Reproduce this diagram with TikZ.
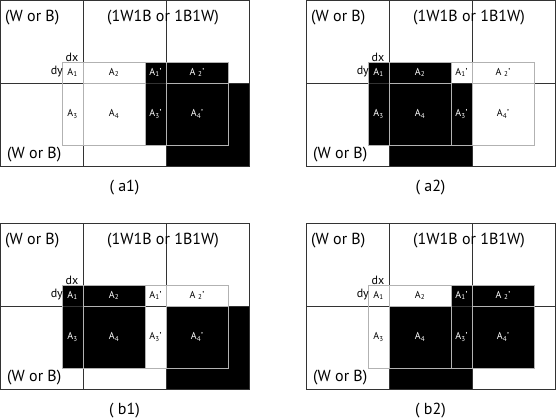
\documentclass[tikz,border=0pt]{standalone}
\usepackage{fontspec}
\setmainfont{PT Sans}
\usetikzlibrary{positioning}

% the eight cells of the shifted window: #1 panel, #2..#9 styles of A1 A2 A1' A2' A3 A4 A3' A4'
\newcommand{\wincells}[9]{%
  \node[#2,minimum width=21pt,minimum height=21pt] (#1-A1)  at (72.5,72.5)  {A\textsubscript{1}};
  \node[#3,minimum width=62pt,minimum height=21pt] (#1-A2)  at (114,72.5)   {A\textsubscript{2}};
  \node[#4,minimum width=21pt,minimum height=21pt] (#1-A1p) at (155.5,72.5) {A\textsubscript{1}'};
  \node[#5,minimum width=62pt,minimum height=21pt] (#1-A2p) at (197,72.5)   {A \textsubscript{2}'};
  \node[#6,minimum width=21pt,minimum height=62pt] (#1-A3)  at (72.5,114)   {A\textsubscript{3}};
  \node[#7,minimum width=62pt,minimum height=62pt] (#1-A4)  at (114,114)    {A\textsubscript{4}};
  \node[#8,minimum width=21pt,minimum height=62pt] (#1-A3p) at (155.5,114)  {A\textsubscript{3}'};
  \node[#9,minimum width=62pt,minimum height=62pt] (#1-A4p) at (197,114)    {A\textsubscript{4}'};
}
% block grid, window outline and texts of one panel
\newcommand{\panelgrid}[2]{%
  \draw[grid] (0.5,0.5) rectangle (249,166)
              (83,0.5) -- (83,166) (166,0.5) -- (166,166) (0.5,83) -- (249,83);
  \draw[ovl] (62,62) rectangle (228,145);
  \draw[ovl] (83,62) rectangle (145,145) (83,83) -- (145,83);
  \draw[ovl] (166,62) rectangle (228,145) (166,83) -- (228,83);
  \node[lbl,anchor=west] (#1-tl) at (5,18) {(W or B)};
  \node[lbl] (#1-tm) at (163,18) {(1W1B or 1B1W)};
  \node[lbl,anchor=west] (#1-bl) at (7,155) {(W or B)};
  \node[sml] (#1-dx) at (72,57) {dx};
  \node[sml,anchor=east] (#1-dy) at (63,72) {dy};
  \node[lbl] (#1-cap) at (124.5,188) {#2};
}

\begin{document}
\begin{tikzpicture}[
  x=1pt,y=-1pt,
  wc/.style={inner sep=0pt,font=\fontsize{10}{10}\selectfont},
  bc/.style={wc,fill=black,text=white},
  grid/.style={draw=black!80,line width=1pt},
  ovl/.style={draw=gray!60,line width=1pt},
  lbl/.style={inner sep=0pt,font=\fontsize{16}{16}\selectfont},
  sml/.style={inner sep=0pt,font=\fontsize{12}{12}\selectfont},
]
\useasboundingbox (0,0) rectangle (556,418);

% (a1)
\begin{scope}
  \node[bc,minimum size=83pt] (a1-bg) at (207.5,124.5) {};
  \wincells{a1}{wc}{wc}{bc}{bc}{wc}{wc}{bc}{bc}
  \panelgrid{a1}{( a1)}
\end{scope}

% (a2)
\begin{scope}[shift={(306,0)}]
  \node[bc,minimum size=83pt] (a2-bg) at (124.5,124.5) {};
  \wincells{a2}{bc}{bc}{wc}{wc}{bc}{bc}{bc}{wc}
  \panelgrid{a2}{( a2)}
\end{scope}

% (b1)
\begin{scope}[shift={(0,223)}]
  \node[bc,minimum size=83pt] (b1-bg) at (207.5,124.5) {};
  \wincells{b1}{bc}{bc}{wc}{wc}{bc}{bc}{wc}{bc}
  \panelgrid{b1}{( b1)}
\end{scope}

% (b2)
\begin{scope}[shift={(306,223)}]
  \node[bc,minimum size=83pt] (b2-bg) at (124.5,124.5) {};
  \wincells{b2}{wc}{wc}{bc}{bc}{wc}{bc}{bc}{bc}
  \panelgrid{b2}{( b2)}
\end{scope}
\end{tikzpicture}
\end{document}
